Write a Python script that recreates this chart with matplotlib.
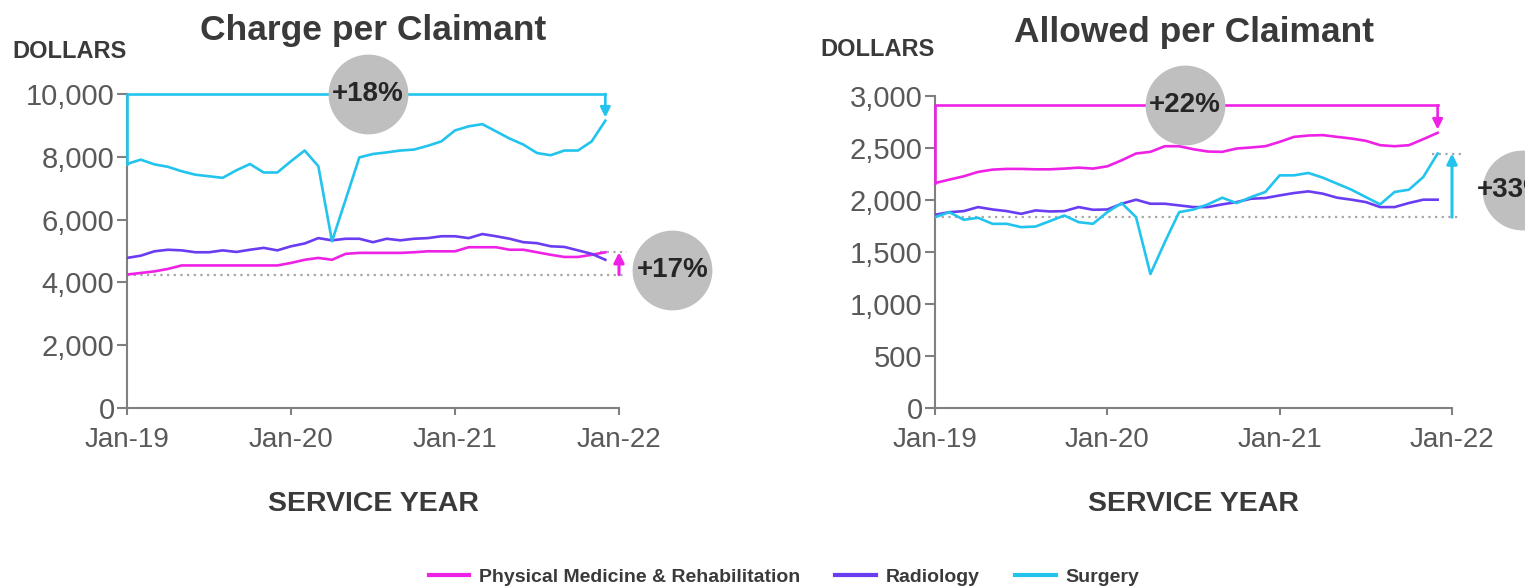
import numpy as np
import matplotlib
matplotlib.use("Agg")
import matplotlib.pyplot as plt

plt.rcParams['font.family'] = ['Liberation Sans', 'DejaVu Sans']

# monthly values, Jan-19 .. Dec-21
months = np.arange(36)
tick_pos = [0, 12, 24, 36]
tick_labels = ["Jan-19", "Jan-20", "Jan-21", "Jan-22"]

series_names = ["Physical Medicine & Rehabilitation", "Radiology", "Surgery"]
colors = ["#EE22E6", "#6A3CF2", "#22C4EE"]

charge_pmr = [4250, 4300, 4350, 4430, 4540, 4540, 4540, 4540, 4540, 4540, 4540, 4540,
              4620, 4720, 4780, 4720, 4910, 4940, 4940, 4940, 4940, 4960, 4990, 4990,
              4990, 5120, 5120, 5120, 5040, 5040, 4960, 4880, 4810, 4810, 4880, 4960]
charge_rad = [4780, 4850, 4990, 5040, 5020, 4960, 4960, 5020, 4970, 5040, 5100, 5020,
              5150, 5240, 5410, 5340, 5390, 5390, 5280, 5390, 5340, 5390, 5410, 5470,
              5470, 5410, 5540, 5470, 5390, 5280, 5250, 5150, 5130, 5020, 4910, 4720]
charge_surg = [7770, 7910, 7760, 7680, 7540, 7430, 7380, 7330, 7570, 7770, 7500, 7500,
               7860, 8200, 7700, 5310, 6640, 7980, 8090, 8140, 8200, 8230, 8350, 8490,
               8840, 8970, 9040, 8810, 8580, 8390, 8120, 8050, 8200, 8200, 8490, 9150]

allowed_pmr = [2163, 2196, 2228, 2270, 2292, 2299, 2299, 2295, 2295, 2302, 2311, 2302,
               2324, 2382, 2447, 2463, 2517, 2517, 2488, 2466, 2463, 2495, 2505, 2517,
               2559, 2607, 2620, 2624, 2607, 2591, 2569, 2527, 2517, 2527, 2585, 2646]
allowed_rad = [1858, 1883, 1893, 1932, 1909, 1893, 1867, 1900, 1890, 1893, 1932, 1906,
               1909, 1964, 2003, 1964, 1964, 1948, 1932, 1932, 1958, 1980, 2012, 2019,
               2044, 2067, 2083, 2061, 2022, 2003, 1980, 1932, 1932, 1971, 2003, 2003]
allowed_surg = [1835, 1883, 1810, 1829, 1771, 1771, 1739, 1745, 1797, 1851, 1787, 1771,
                1883, 1970, 1835, 1288, 1594, 1883, 1909, 1958, 2022, 1970, 2028, 2077,
                2237, 2237, 2260, 2215, 2157, 2099, 2028, 1958, 2077, 2099, 2221, 2447]

charge_labels = ["+18%", "+17%"]
allowed_labels = ["+22%", "+33%"]

axis_grey = "#808080"
text_grey = "#595959"
dark = "#3A3A3A"
circle_grey = "#BFBFBF"

W, H = 1525, 588
fig = plt.figure(figsize=(W / 100, H / 100), dpi=100)
ax1 = fig.add_axes([127 / W, 1 - 408 / H, 492 / W, 314 / H])
ax2 = fig.add_axes([935 / W, 1 - 408 / H, 517 / W, 312 / H])


def style_axis(ax, ymax, step):
    ax.set_xlim(0, 36)
    ax.set_ylim(0, ymax)
    for s in ["top", "right"]:
        ax.spines[s].set_visible(False)
    for s in ["left", "bottom"]:
        ax.spines[s].set_color(axis_grey)
        ax.spines[s].set_linewidth(1.5)
    ax.set_xticks(tick_pos)
    ax.set_xticklabels(tick_labels)
    ax.set_yticks(np.arange(0, ymax + 1, step))
    ax.yaxis.set_major_formatter(matplotlib.ticker.StrMethodFormatter("{x:,.0f}"))
    ax.tick_params(axis="y", length=7, width=1.5, color=axis_grey, labelcolor=text_grey,
                   labelsize=21, pad=2)
    ax.tick_params(axis="x", length=5, width=1.5, color=axis_grey, labelcolor=text_grey,
                   labelsize=20, pad=9)


def draw_chart(ax, data, ymax, step, title):
    style_axis(ax, ymax, step)
    for vals, c, name in zip(data, colors, series_names):
        ax.plot(months, vals, color=c, lw=1.9, label=name, zorder=3)
    ax.set_title(title, fontsize=25.5, fontweight="bold", color=dark, pad=39)
    ax.set_xlabel("SERVICE YEAR", fontsize=20.5, fontweight="bold", color=dark, labelpad=27)


def bracket(ax, vals, color, label, top, circle_x):
    # line from first value up, across, and arrow down to last value
    x0, x1 = months[0], months[-1]
    ax.plot([x0, x0, x1], [vals[0], top, top], color=color, lw=1.9, clip_on=False, zorder=4)
    ax.annotate("", xy=(x1, vals[-1] + (top - vals[-1]) * 0.12), xytext=(x1, top),
                arrowprops=dict(arrowstyle="-|>,head_length=0.6,head_width=0.3",
                                color=color, lw=1.9, shrinkA=0, shrinkB=0),
                annotation_clip=False, zorder=4)
    ax.scatter([circle_x], [top], s=3300, color=circle_grey, clip_on=False, zorder=5,
               linewidths=0)
    ax.text(circle_x, top, label, ha="center", va="center", fontsize=20,
            fontweight="bold", color="#262626", zorder=6, clip_on=False)


def growth(ax, vals, color, label, circle_x, circle_y, text_dx=0):
    # dotted reference lines and upward arrow at Jan-22
    ax.plot([0, 36.6], [vals[0], vals[0]], color="#A6A6A6", ls=(0, (1, 2)), lw=1.6,
            clip_on=False, zorder=2)
    ax.plot([34.6, 36.6], [vals[-1], vals[-1]], color="#A6A6A6", ls=(0, (1, 2)), lw=1.6,
            clip_on=False, zorder=2)
    ax.annotate("", xy=(36, vals[-1]), xytext=(36, vals[0]),
                arrowprops=dict(arrowstyle="-|>,head_length=0.6,head_width=0.3",
                                color=color, lw=2.2, shrinkA=0, shrinkB=0),
                annotation_clip=False, zorder=4)
    ax.scatter([circle_x], [circle_y], s=3300, color=circle_grey, clip_on=False, zorder=5,
               linewidths=0)
    ax.text(circle_x + text_dx, circle_y, label, ha="center", va="center", fontsize=20,
            fontweight="bold", color="#262626", zorder=6, clip_on=False)


draw_chart(ax1, [charge_pmr, charge_rad, charge_surg], 10000, 2000, "Charge per Claimant")
bracket(ax1, charge_surg, colors[2], charge_labels[0], 10000, 17.6)
growth(ax1, charge_pmr, colors[0], charge_labels[1], 39.9, 4390)

draw_chart(ax2, [allowed_pmr, allowed_rad, allowed_surg], 3000, 500, "Allowed per Claimant")
bracket(ax2, allowed_pmr, colors[0], allowed_labels[0], 2910, 17.4)
growth(ax2, allowed_surg, colors[2], allowed_labels[1], 40.9, 2096, text_dx=-0.7)

fig.text(12 / W, 1 - 52 / H, "DOLLARS", fontsize=17, fontweight="bold", color=dark,
         ha="left", va="center")
fig.text(820 / W, 1 - 50 / H, "DOLLARS", fontsize=17, fontweight="bold", color=dark,
         ha="left", va="center")

handles, labels = ax1.get_legend_handles_labels()
leg = fig.legend(handles, labels, loc="center", bbox_to_anchor=(784 / W, 1 - 577 / H),
                 ncol=3, frameon=False, handlelength=2.1, handletextpad=0.5,
                 columnspacing=1.8, prop={"size": 14, "weight": "bold"})
for t in leg.get_texts():
    t.set_color(dark)
for l in leg.get_lines():
    l.set_linewidth(3)

fig.savefig("out.png", dpi=100)
